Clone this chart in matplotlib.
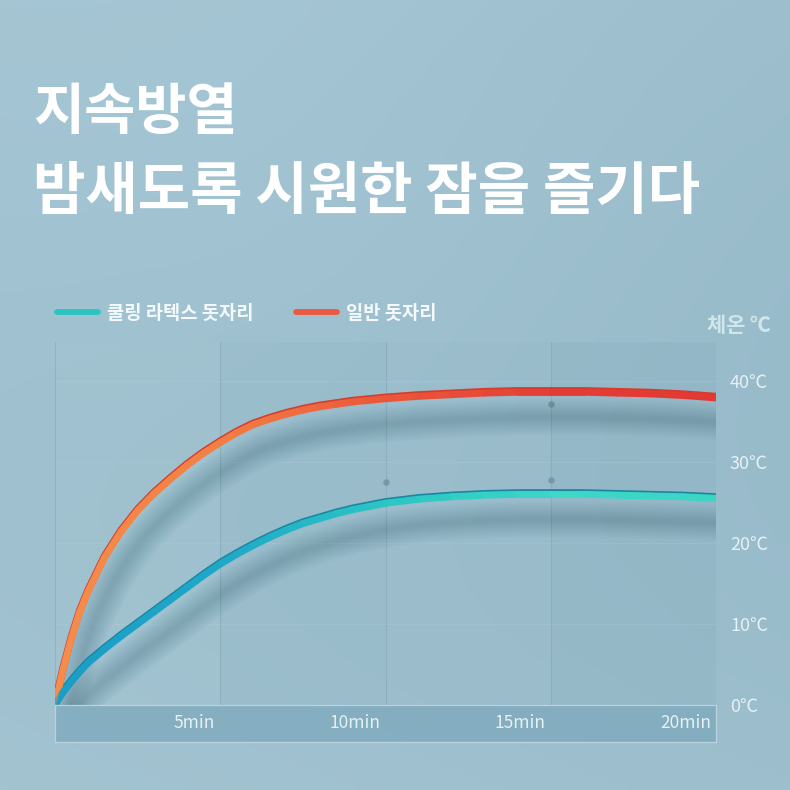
import numpy as np
import matplotlib
matplotlib.use("Agg")
from matplotlib import pyplot as plt
from matplotlib.collections import LineCollection
from matplotlib.colors import LinearSegmentedColormap
from matplotlib.lines import Line2D
from matplotlib.transforms import ScaledTranslation

plt.rcParams['font.family'] = ['Noto Sans CJK KR', 'DejaVu Sans']

# data (minutes, body temperature in C)
minutes = [0, 0.25, 0.5, 0.75, 1, 1.5, 2, 2.5, 3, 3.5, 4, 4.5, 5, 5.5, 6, 6.5,
           7, 7.5, 8, 8.5, 9, 9.5, 10, 11, 12, 13, 14, 15, 16, 17, 18, 19, 20]
normal_mat = [0, 4.5, 8.3, 11.5, 14.0, 18.2, 21.4, 24.0, 26.1, 27.9, 29.6, 31.1,
              32.4, 33.6, 34.6, 35.3, 35.9, 36.4, 36.8, 37.1, 37.4, 37.6, 37.8,
              38.1, 38.3, 38.5, 38.6, 38.6, 38.6, 38.5, 38.4, 38.2, 37.9]
cooling_mat = [0, 1.6, 2.9, 4.1, 5.2, 6.9, 8.5, 10.0, 11.5, 13.0, 14.5, 16.0,
               17.4, 18.6, 19.7, 20.7, 21.6, 22.4, 23.0, 23.6, 24.1, 24.5, 24.9,
               25.4, 25.7, 25.9, 26.0, 26.0, 26.0, 25.9, 25.8, 25.7, 25.5]

x_ticks = [5, 10, 15, 20]
x_labels = ["5min", "10min", "15min", "20min"]
y_ticks = [0, 10, 20, 30, 40]
y_labels = ["0℃", "10℃", "20℃", "30℃", "40℃"]

title_1 = "지속방열"
title_2 = "밤새도록 시원한 잠을 즐기다"
label_cool = "쿨링 라텍스 돗자리"
label_normal = "일반 돗자리"
unit_label = "체온 ℃"

fig = plt.figure(figsize=(7.9, 7.9), dpi=100)

# background gradient
bg = fig.add_axes([0, 0, 1, 1], zorder=-10)
gy, gx = np.mgrid[0:1:200j, 0:1:200j]
top = np.array([163, 195, 209]) / 255
mid = np.array([145, 182, 198]) / 255
light = np.exp(-((gx - 0.3) ** 2 / 0.25 + (gy - 0.2) ** 2 / 0.15))
shade = np.clip(0.35 * gx + 1.0 * gy * (1 - gy), 0, 1)
img = top[None, None, :] * (1 - shade[..., None]) + mid[None, None, :] * shade[..., None]
img = np.clip(img + 0.015 * light[..., None], 0, 1)
bg.imshow(img, extent=[0, 1, 0, 1], aspect='auto', origin='upper')
bg.set_axis_off()

# main plot area
ax = fig.add_axes([55 / 790, 85 / 790, 661 / 790, 363 / 790])
ax.set_xlim(0, 20)
ax.set_ylim(0, 44.8)
ax.patch.set_alpha(0)
for s in ax.spines.values():
    s.set_visible(False)

# column shading and grid
ax.axvspan(0, 5, color='white', alpha=0.02, lw=0)
ax.axvspan(5, 10, color='#3d6f86', alpha=0.03, lw=0)
ax.axvspan(10, 15, color='#3d6f86', alpha=0.02, lw=0)
ax.axvspan(15, 20, color='#3d6f86', alpha=0.06, lw=0)
for t in [0] + x_ticks:
    ax.axvline(t, color='#7aa0b2', lw=0.8, alpha=0.45)
for v in y_ticks[1:]:
    ax.axhline(v, color='#b5d0dc', lw=0.7, alpha=0.25)

# decorative dots
ax.scatter([10, 15, 15], [27.5, 37.2, 27.8], s=22, color='#6d8b9a', alpha=0.7, lw=0, zorder=2)


def shadow(xs, ys, color):
    tr = ax.transData + ScaledTranslation(6 / 72, -18 / 72, fig.dpi_scale_trans)
    for lw in np.linspace(26, 3, 14):
        ax.plot(xs, ys, color=color, lw=lw, alpha=0.02, transform=tr,
                solid_capstyle='round', solid_joinstyle='round', zorder=3)


def tube(xs, ys, colors, edge):
    pts = np.column_stack([xs, ys])
    segs = np.stack([pts[:-1], pts[1:]], axis=1)
    cmap = LinearSegmentedColormap.from_list('c', colors)
    vals = np.asarray(xs[:-1]) / 20
    tr = ax.transData + ScaledTranslation(0, 1.0 / 72, fig.dpi_scale_trans)
    ax.plot(xs, ys, color=edge, lw=5.4, transform=tr, solid_capstyle='butt',
            solid_joinstyle='round', zorder=4)
    lc = LineCollection(segs, colors=cmap(vals), linewidths=5.0, capstyle='round',
                        joinstyle='round', zorder=5)
    ax.add_collection(lc)
    tr2 = ax.transData + ScaledTranslation(0, -0.9 / 72, fig.dpi_scale_trans)
    lc2 = LineCollection(segs, colors=cmap(vals), linewidths=1.8, capstyle='round',
                         alpha=0.5, zorder=6, transform=tr2)
    ax.add_collection(lc2)


shadow(minutes, normal_mat, '#2f5a70')
shadow(minutes, cooling_mat, '#2f5a70')
tube(minutes, normal_mat, ['#f58c4c', '#f27d42', '#ea553a', '#e43c33', '#e23a33'], '#d53c2e')
tube(minutes, cooling_mat, ['#1a9dc6', '#1fa9c8', '#2cc7c4', '#3dd8c6', '#3ad4c4'], '#1b86a0')

ax.set_xticks([])
ax.yaxis.tick_right()
ax.set_yticks(y_ticks)
ax.set_yticklabels(y_labels)
ax.tick_params(axis='y', length=0, pad=10, labelsize=13, labelcolor='#e6f1f5')

# x band
band = fig.add_axes([55 / 790, 48 / 790, 661 / 790, 37 / 790])
band.set_xlim(0, 20)
band.set_ylim(0, 1)
band.patch.set_facecolor('#7aa8bb')
band.patch.set_alpha(0.7)
for s in band.spines.values():
    s.set_color('#b7d3de')
    s.set_linewidth(0.9)
band.set_xticks([])
band.set_yticks([])
for t, lab in zip(x_ticks, x_labels):
    band.text(t - 0.15, 0.5, lab, ha='right', va='center', fontsize=12.5, color='#e6f1f5')

# titles
fig.text(33 / 790, 1 - 113 / 790, title_1, fontsize=40, fontweight='bold',
         color='white', va='center', ha='left')
fig.text(33 / 790, 1 - 192 / 790, title_2, fontsize=41, fontweight='bold',
         color='white', va='center', ha='left')

# legend
handles = [Line2D([], [], color='#2cc4c2', lw=4.2, solid_capstyle='round'),
           Line2D([], [], color='#ea5a40', lw=4.2, solid_capstyle='round')]
leg = fig.legend(handles, [label_cool, label_normal], loc='center left',
                 bbox_to_anchor=(40 / 790, 1 - 313 / 790), ncol=2, frameon=False,
                 handlelength=2.2, handletextpad=0.45, columnspacing=2.3,
                 prop={'size': 13.5, 'weight': 'bold'})
for txt in leg.get_texts():
    txt.set_color('#f4f9fb')

fig.text(771 / 790, 1 - 325 / 790, unit_label, fontsize=15, fontweight='bold',
         color='#cfe6eb', ha='right', va='center')

fig.savefig('out.png', dpi=100)
